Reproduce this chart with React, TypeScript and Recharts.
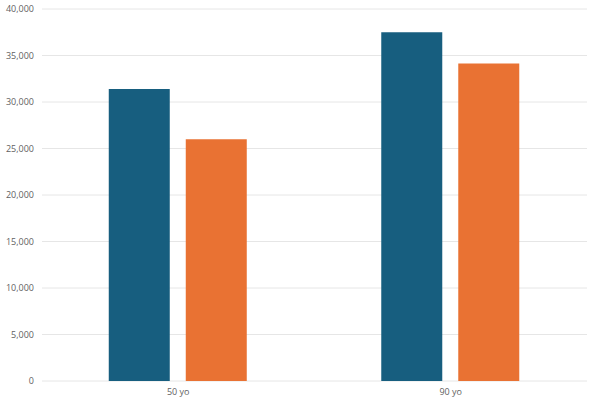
import { BarChart, Bar, XAxis, YAxis, CartesianGrid } from 'recharts'

const categories = ['50 yo', '90 yo']
const seriesA = [31400, 37500]
const seriesB = [26000, 34150]
const yTicks = [0, 5000, 10000, 15000, 20000, 25000, 30000, 35000, 40000]

const data = categories.map((name, i) => ({ name, a: seriesA[i], b: seriesB[i] }))

const tickStyle = { fontSize: 9, fill: '#5f5f5f', fontFamily: '"Open Sans", sans-serif' }

export default function App() {
  return (
    <div style={{ position: 'absolute', left: 0, top: 0, width: 600, height: 400, background: '#fff' }}>
      <BarChart
        width={600}
        height={400}
        data={data}
        margin={{ top: 9, right: 13, left: 0, bottom: 0 }}
        barGap={16}
        barCategoryGap="24.5%"
      >
        <CartesianGrid vertical={false} stroke="#e6e6e6" />
        <XAxis
          dataKey="name"
          axisLine={false}
          tickLine={false}
          tick={tickStyle}
          height={19}
        />
        <YAxis
          domain={[0, 40000]}
          ticks={yTicks}
          axisLine={false}
          tickLine={false}
          width={42}
          tick={tickStyle}
          tickFormatter={(v) => v.toLocaleString('en-US')}
        />
        <Bar dataKey="a" fill="#175e7f" isAnimationActive={false} />
        <Bar dataKey="b" fill="#e97233" isAnimationActive={false} />
      </BarChart>
    </div>
  )
}
